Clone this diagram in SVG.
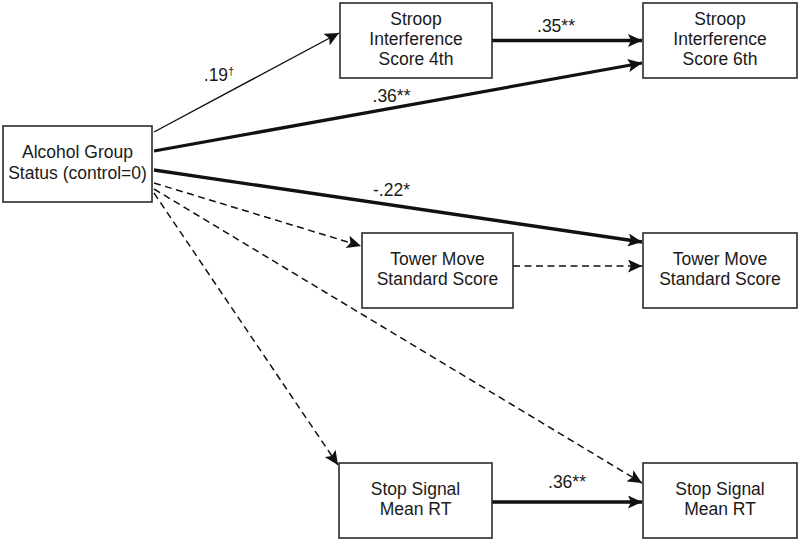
<svg xmlns="http://www.w3.org/2000/svg" width="799" height="542" viewBox="0 0 799 542">
<defs>
<style>
.box{fill:#fff;stroke:#2b2b2b;stroke-width:1.6}
.t{font-family:"Liberation Sans",Arial,sans-serif;font-size:17.5px;fill:#1a1a1a;text-anchor:middle}
.thin{stroke:#111;stroke-width:1.4;fill:none;marker-end:url(#ah)}
.thick{stroke:#111;stroke-width:3.3;fill:none;marker-end:url(#ah)}
.dash{stroke:#111;stroke-width:1.5;fill:none;stroke-dasharray:7,4.5;marker-end:url(#ah)}
</style>
<marker id="ah" markerUnits="userSpaceOnUse" markerWidth="15" markerHeight="13" refX="14" refY="6.5" orient="auto">
<path d="M0,0 L14,6.5 L0,13 L3,6.5 z" fill="#111"/>
</marker>
</defs>
<rect width="799" height="542" fill="#fff"/>
<g id="connectors">
<line class="thin" x1="154" y1="132" x2="339" y2="33"/>
<line class="thick" x1="154" y1="151" x2="642" y2="63"/>
<line class="thick" x1="492" y1="40.5" x2="642" y2="40.5"/>
<line class="thick" x1="154" y1="170" x2="642" y2="242"/>
<line class="dash" x1="154" y1="183" x2="361" y2="246"/>
<line class="dash" x1="513" y1="266" x2="642" y2="266"/>
<line class="dash" x1="154" y1="189" x2="642" y2="483"/>
<line class="dash" x1="154" y1="193" x2="338" y2="465"/>
<line class="thick" x1="492" y1="502" x2="642" y2="502"/>
<text class="t" x="219" y="81">.19<tspan font-size="11" dy="-6">†</tspan></text>
<text class="t" x="391.5" y="102">.36**</text>
<text class="t" x="556" y="32">.35**</text>
<text class="t" x="391.5" y="196">-.22*</text>
<text class="t" x="567" y="488">.36**</text>
</g>
<g id="alcohol">
<rect class="box" x="3" y="126" width="149" height="76"/>
<text class="t" x="77.5" y="158">Alcohol Group</text>
<text class="t" x="77.5" y="179">Status (control=0)</text>
</g>
<g id="stroop4">
<rect class="box" x="340" y="3" width="152" height="75"/>
<text class="t" x="416" y="25">Stroop</text>
<text class="t" x="416" y="45">Interference</text>
<text class="t" x="416" y="65">Score 4th</text>
</g>
<g id="stroop6">
<rect class="box" x="643" y="3" width="154" height="75"/>
<text class="t" x="720" y="25">Stroop</text>
<text class="t" x="720" y="45">Interference</text>
<text class="t" x="720" y="65">Score 6th</text>
</g>
<g id="tower4">
<rect class="box" x="362" y="233" width="151" height="75"/>
<text class="t" x="437.5" y="265">Tower Move</text>
<text class="t" x="437.5" y="285">Standard Score</text>
</g>
<g id="tower6">
<rect class="box" x="643" y="233" width="154" height="75"/>
<text class="t" x="720" y="265">Tower Move</text>
<text class="t" x="720" y="285">Standard Score</text>
</g>
<g id="stop4">
<rect class="box" x="339" y="463" width="153" height="75"/>
<text class="t" x="415.5" y="495">Stop Signal</text>
<text class="t" x="415.5" y="515">Mean RT</text>
</g>
<g id="stop6">
<rect class="box" x="643" y="463" width="154" height="75"/>
<text class="t" x="720" y="495">Stop Signal</text>
<text class="t" x="720" y="515">Mean RT</text>
</g>
</svg>
